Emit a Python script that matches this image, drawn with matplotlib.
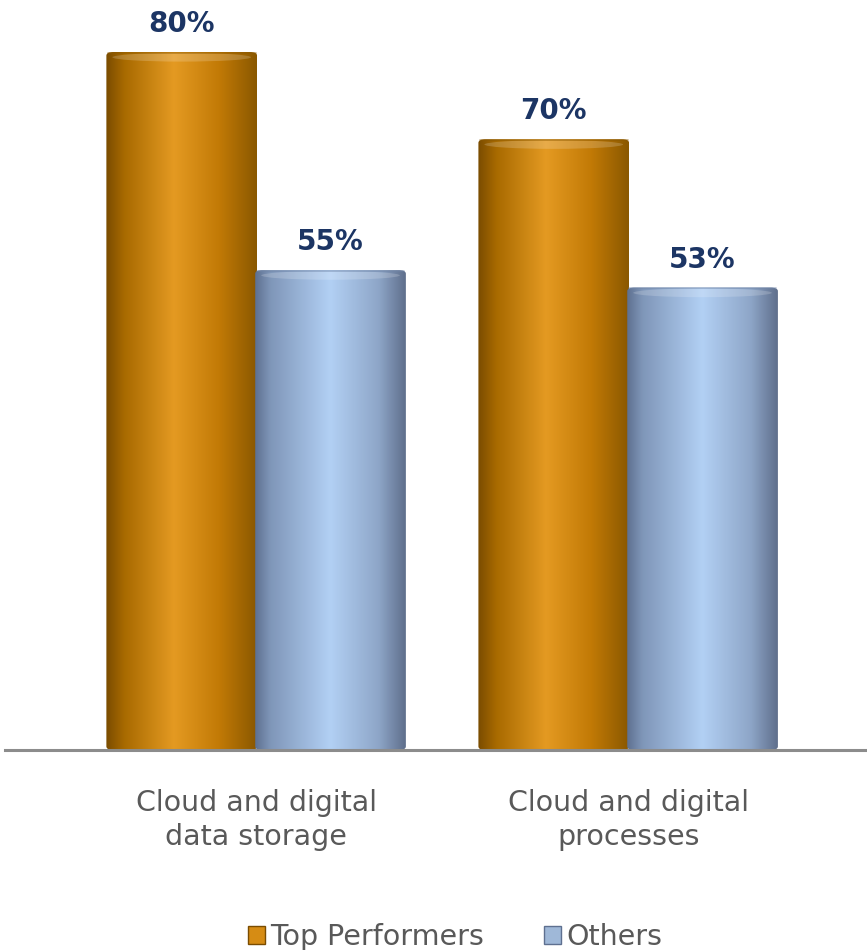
import numpy as np
import matplotlib.pyplot as plt
from matplotlib.colors import LinearSegmentedColormap
from matplotlib.patches import FancyBboxPatch, Ellipse

categories = ["Cloud and digital\ndata storage", "Cloud and digital\nprocesses"]
series_names = ["Top Performers", "Others"]
top_performers = [80, 70]
others = [55, 53]

# shading stops for a cylinder look: dark edge -> highlight -> dark edge
orange_cmap = LinearSegmentedColormap.from_list(
    "orange_cyl", [(0.0, "#7a4c00"), (0.12, "#a86a00"), (0.45, "#e49a22"),
                   (0.75, "#c27a06"), (1.0, "#8a5800")])
blue_cmap = LinearSegmentedColormap.from_list(
    "blue_cyl", [(0.0, "#5e7090"), (0.1, "#7f96b8"), (0.5, "#b2d0f4"),
                 (0.82, "#8ea6c8"), (1.0, "#5f6f8c")])

fig = plt.figure(figsize=(8.67, 9.5), dpi=100)
ax = fig.add_axes([5 / 867, 200 / 950, 862 / 867, 750 / 950])

x = np.arange(len(categories))
width = 0.405
offsets = [-0.2, 0.2]
grad = np.linspace(0, 1, 256).reshape(1, -1)


def cylinder_bars(xs, vals, cmap, edge):
    bars = ax.bar(xs, vals, width, color="none", zorder=1)
    for b in bars:
        x0, w, h = b.get_x(), b.get_width(), b.get_height()
        clip = FancyBboxPatch((x0, 0), w, h, boxstyle="round,pad=0,rounding_size=0.02",
                              mutation_aspect=20, transform=ax.transData,
                              facecolor="none", edgecolor="none")
        ax.add_patch(clip)
        im = ax.imshow(grad, cmap=cmap, extent=(x0, x0 + w, 0, h), aspect="auto",
                       zorder=2, interpolation="bicubic")
        im.set_clip_path(clip)
        cap = Ellipse((x0 + w / 2, h - 0.6), w * 0.92, 1.0, facecolor="white",
                      alpha=0.18, edgecolor="none", zorder=3)
        ax.add_patch(cap)
        ax.plot([x0 + 0.004, x0 + w - 0.004], [h - 0.08, h - 0.08], color=edge,
                lw=1.2, alpha=0.5, zorder=3, solid_capstyle="round")
    return bars


b1 = cylinder_bars(x + offsets[0], top_performers, orange_cmap, "#8a5800")
b2 = cylinder_bars(x + offsets[1], others, blue_cmap, "#6f84a6")

for bars, vals in [(b1, top_performers), (b2, others)]:
    for b, v in zip(bars, vals):
        ax.annotate(f"{v}%", (b.get_x() + b.get_width() / 2, v),
                    xytext=(0, 10), textcoords="offset points", ha="center",
                    va="bottom", fontsize=20, fontweight="bold", color="#1c3564")

ax.set_xlim(-0.675, 1.642)
ax.set_ylim(0, 85.96)
ax.set_yticks([])
ax.set_xticks(x)
ax.set_xticklabels(categories, fontsize=20.5, color="#595959", linespacing=1.3)
ax.tick_params(axis="x", length=0, pad=28)
for s in ["top", "right", "left"]:
    ax.spines[s].set_visible(False)
ax.spines["bottom"].set_color("#8c8c8c")
ax.spines["bottom"].set_linewidth(2.2)

# legend proxies
h1 = plt.Rectangle((0, 0), 1, 1, facecolor="#d68c14", edgecolor="#7a4c00", lw=1)
h2 = plt.Rectangle((0, 0), 1, 1, facecolor="#9fb8d8", edgecolor="#5e7090", lw=1)
fig.legend([h1, h2], series_names, loc="center", bbox_to_anchor=(0.525, 0.014),
           ncol=2, frameon=False, fontsize=20.5, labelcolor="#595959",
           handlelength=0.6, handleheight=0.6, handletextpad=0.2,
           columnspacing=2.1)

fig.savefig("out.png", dpi=100)
